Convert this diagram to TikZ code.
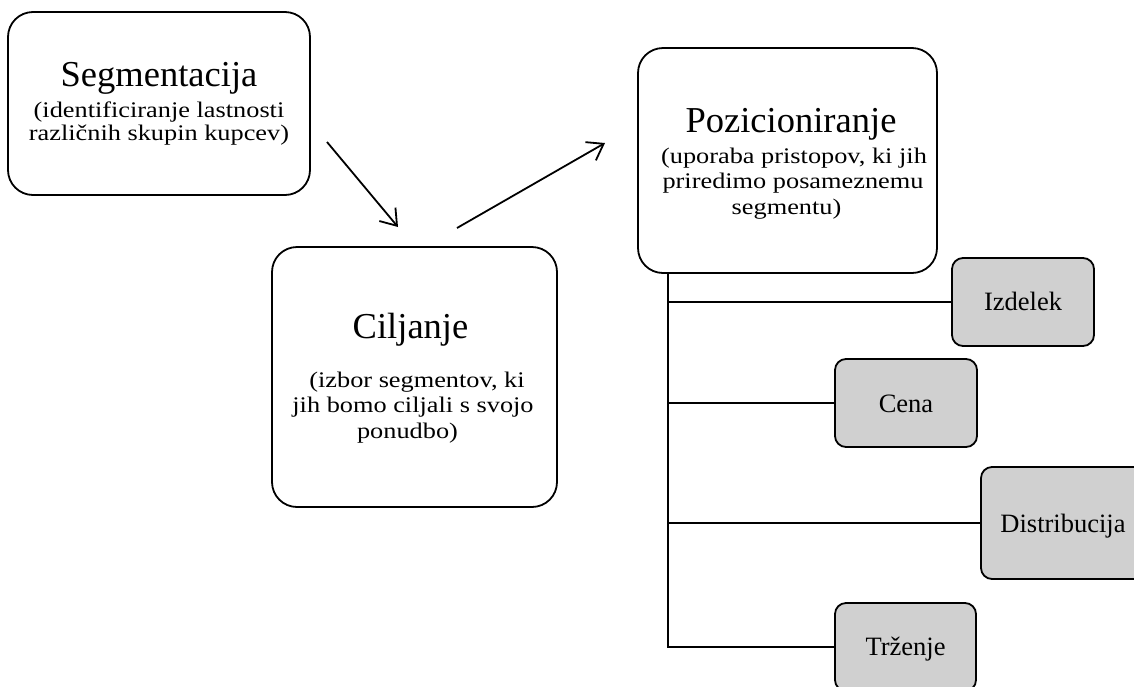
\documentclass[tikz,border=0pt]{standalone}
\usepackage{fontspec}
\setmainfont{Liberation Serif}
\newfontfamily\subfnt{Liberation Serif}[FakeStretch=1.18]
\usetikzlibrary{arrows.meta}
\definecolor{boxgray}{RGB}{208,208,208}
\tikzset{
  bigbox/.style={draw, line width=1.8pt, rounded corners=25pt, fill=white, inner sep=0pt},
  graybox/.style={draw, line width=1.8pt, rounded corners=11pt, fill=boxgray, inner sep=0pt},
  ttl/.style={anchor=base, font=\fontsize{36.5}{40}\selectfont, inner sep=0pt},
  sub/.style={anchor=base, font=\subfnt\fontsize{22.3}{26}\selectfont, inner sep=0pt},
  lbl/.style={anchor=base, font=\fontsize{26.5}{30}\selectfont, inner sep=0pt},
  conn/.style={line width=1.8pt},
  arr/.style={line width=1.8pt, -{Straight Barb[length=15pt,width=21pt]}}
}
\begin{document}
\begin{tikzpicture}[x=1pt,y=-1pt]
\clip (0,0) rectangle (1134,686);
\fill[white] (0,0) rectangle (1134,686);
% main boxes
\node[bigbox, minimum width=302pt, minimum height=183pt] (seg) at (159,103.5) {};
\node[bigbox, minimum width=285pt, minimum height=260pt] (cil) at (414.5,377) {};
\node[bigbox, minimum width=299pt, minimum height=225pt] (poz) at (787.5,160.5) {};
% gray boxes
\node[graybox, minimum width=142pt, minimum height=88pt] (izd) at (1023,302) {};
\node[graybox, minimum width=142pt, minimum height=88pt] (cena) at (906,403) {};
\node[graybox, minimum width=164pt, minimum height=112pt] (dist) at (1063,523) {};
\node[graybox, minimum width=141pt, minimum height=88pt] (trz) at (905.5,647) {};
% texts
\node[ttl] (segT) at (159,86) {Segmentacija};
\node[sub] (segA) at (159,117) {(identificiranje lastnosti};
\node[sub] (segB) at (159,140.5) {različnih skupin kupcev)};
\node[ttl] (cilT) at (410.5,338) {Ciljanje};
\node[sub] (cilA) at (417,387) {(izbor segmentov, ki};
\node[sub] (cilB) at (413,412) {jih bomo ciljali s svojo};
\node[sub] (cilC) at (407.5,438) {ponudbo)};
\node[ttl] (pozT) at (791,132) {Pozicioniranje};
\node[sub] (pozA) at (794,163) {(uporaba pristopov, ki jih};
\node[sub] (pozB) at (793,188) {priredimo posameznemu};
\node[sub] (pozC) at (786.5,214) {segmentu)};
\node[lbl] (izdT) at (1023,310.5) {Izdelek};
\node[lbl] (cenaT) at (906,412) {Cena};
\node[lbl] (distT) at (1063,532) {Distribucija};
\node[lbl] (trzT) at (905.5,655) {Trženje};
% arrows
\coordinate (a1s) at (327,142);
\coordinate (a1e) at (398,227);
\coordinate (a2s) at (457,228);
\coordinate (a2e) at (605,143);
\draw[arr] (a1s) -- (a1e);
\draw[arr] (a2s) -- (a2e);
% tree
\coordinate (trunk) at ([xshift=31pt]poz.south west);
\draw[conn] (trunk) |- (trz.west);
\draw[conn] (trunk |- izd.west) -- (izd.west);
\draw[conn] (trunk |- cena.west) -- (cena.west);
\draw[conn] (trunk |- dist.west) -- (dist.west);
\end{tikzpicture}
\end{document}
